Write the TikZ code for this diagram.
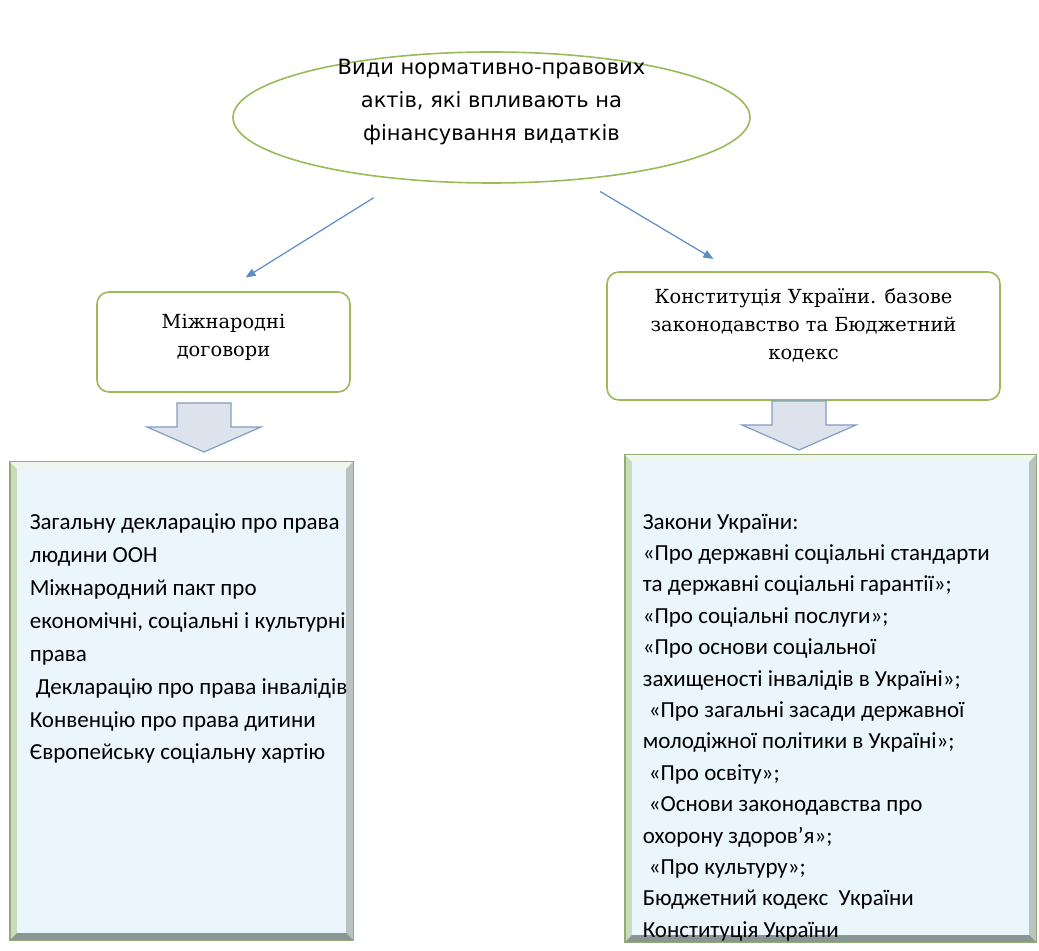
\documentclass[tikz,border=0pt]{standalone}
\usepackage{fontspec}
\setmainfont{Carlito}
\newfontfamily\ovalfont{DejaVu Sans}
\newfontfamily\boxfont{DejaVu Serif}
\usetikzlibrary{arrows.meta,shapes.geometric}
\definecolor{ovalgreen}{RGB}{155,187,89}
\definecolor{linkblue}{RGB}{91,140,200}
\definecolor{arrowfill}{RGB}{221,227,236}
\definecolor{arrowline}{RGB}{130,158,196}
\definecolor{frameline}{RGB}{145,172,118}
\definecolor{bevtop}{RGB}{238,246,238}
\definecolor{bevleft}{RGB}{200,220,188}
\definecolor{bevright}{RGB}{184,195,194}
\definecolor{bevbot}{RGB}{138,150,148}
\definecolor{paper}{RGB}{234,246,252}

\begin{document}
\begin{tikzpicture}[x=0.5pt, y=-0.5pt,
  link/.style={draw=linkblue, line width=0.6pt, -{Triangle[length=5pt,width=4pt]}},
  topoval/.style={ellipse, draw=ovalgreen, line width=0.8pt, minimum width=258.5pt, minimum height=65.5pt,
                  text height=23.5pt, text depth=0pt,
                  align=center, font=\ovalfont\fontsize{10.5}{16.5}\selectfont},
  srcbox/.style={rectangle, rounded corners=6pt, draw=ovalgreen, line width=0.8pt,
                 align=center, font=\boxfont\fontsize{9.7}{14}\selectfont},
  lawbox/.style={rectangle, draw=frameline, fill=bevleft, line width=0.6pt, inner sep=0pt},
  lawtext/.style={anchor=north west, inner sep=0pt, align=left},
  blockdown/.pic={\draw[arrowline, fill=arrowfill, line width=0.6pt]
      (-27,0) -- (27,0) -- (27,24) -- (57,24) -- (0,49) -- (-57,24) -- (-27,24) -- cycle;}]
\useasboundingbox (0,0) rectangle (1039,951);

% top oval
\node[topoval] (acts) at (491.5,117.5)
     {Види нормативно-правових\\актів, які впливають на\\фінансування видатків};

% two sources
\node[srcbox, minimum width=126.5pt, minimum height=50pt] (intl) at (223.5,342)
     {Міжнародні\\договори\\[-7pt]\mbox{}};
\node[srcbox, minimum width=196.5pt, minimum height=64pt] (const) at (803.5,336)
     {Конституція України. базове\\законодавство та Бюджетний\\кодекс\\[-2pt]\mbox{}};

\draw[link, shorten <=17pt, shorten >=13pt] (acts.215) -- (intl.north);
\draw[link, shorten <=11.5pt, shorten >=12pt] (acts.325) -- (const.137);

% block arrows
\pic at (204,403) {blockdown};
\pic at (799,401) {blockdown};

% bevelled lists
\node[lawbox, minimum width=171.5pt, minimum height=239pt] (lawsL) at (181.5,701) {};
\node[lawbox, minimum width=205.5pt, minimum height=243.5pt] (lawsR) at (830.5,698.5) {};
\foreach \b in {lawsL,lawsR}{
  \fill[bevtop] (\b.north west) -- (\b.north east) -- ([shift={(-4pt,-4pt)}]\b.north east)
     -- ([shift={(4pt,-4pt)}]\b.north west) -- cycle;
  \fill[bevright] (\b.north east) -- (\b.south east) -- ([shift={(-4pt,4pt)}]\b.south east)
     -- ([shift={(-4pt,-4pt)}]\b.north east) -- cycle;
  \fill[bevbot] (\b.south west) -- (\b.south east) -- ([shift={(-4pt,4pt)}]\b.south east)
     -- ([shift={(4pt,4pt)}]\b.south west) -- cycle;
  \fill[paper] ([shift={(4pt,-4pt)}]\b.north west) rectangle ([shift={(-4pt,4pt)}]\b.south east);
  \draw[frameline, line width=0.6pt] (\b.north west) rectangle (\b.south east);
}

\node[lawtext, font=\fontsize{11.5}{16.45}\selectfont] (listL) at ([shift={(10pt,-26pt)}]lawsL.north west)
  {Загальну декларацію про права\\людини ООН\\Міжнародний пакт про\\економічні, соціальні і культурні\\права\\
   \hspace*{3pt}Декларацію про права інвалідів\\Конвенцію про права дитини\\Європейську соціальну хартію};
\node[lawtext, font=\fontsize{11.5}{15.7}\selectfont] (listR) at ([shift={(9pt,-29.5pt)}]lawsR.north west)
  {Закони України:\\«Про державні соціальні стандарти\\та державні соціальні гарантії»;\\«Про соціальні послуги»;\\
   «Про основи соціальної\\захищеності інвалідів в Україні»;\\\hspace*{3pt}«Про загальні засади державної\\
   молодіжної політики в Україні»;\\\hspace*{3pt}«Про освіту»;\\\hspace*{3pt}«Основи законодавства про\\
   охорону здоров’я»;\\\hspace*{3pt}«Про культуру»;\\Бюджетний кодекс\ \ України\\Конституція України};
\end{tikzpicture}
\end{document}
